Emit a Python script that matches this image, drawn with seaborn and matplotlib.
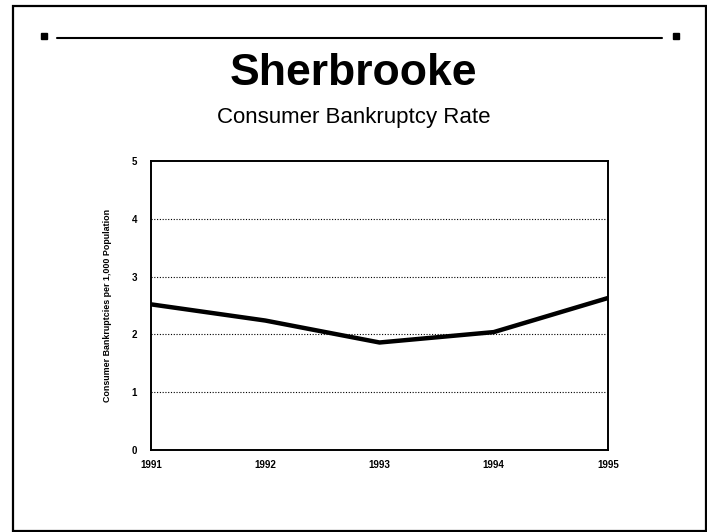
import matplotlib
matplotlib.use("Agg")
import matplotlib.pyplot as plt
from matplotlib.lines import Line2D
from matplotlib.patches import Rectangle
import seaborn as sns
import pandas as pd

# Consumer bankruptcy rate for Sherbrooke
years = [1991, 1992, 1993, 1994, 1995]
rates = [2.52, 2.24, 1.86, 2.04, 2.63]
year_labels = ["1991", "1992", "1993", "1994", "1995"]
y_ticks = [0, 1, 2, 3, 4, 5]

sns.set_style("white")
plt.rcParams["font.family"] = ["Liberation Sans", "DejaVu Sans"]
plt.rcParams["text.color"] = "black"
plt.rcParams["axes.labelcolor"] = "black"
plt.rcParams["xtick.color"] = "black"
plt.rcParams["ytick.color"] = "black"

df = pd.DataFrame({"year": years, "rate": rates})

fig = plt.figure(figsize=(7.07, 5.32), dpi=100)
ax = fig.add_axes([0.2136, 0.1541, 0.6464, 0.5433])

sns.lineplot(data=df, x="year", y="rate", ax=ax, color="black", linewidth=3.2)

ax.set_xlim(years[0], years[-1])
ax.set_ylim(0, 5)
ax.set_xticks(years)
ax.set_xticklabels(year_labels, fontsize=7, fontweight="bold")
ax.set_yticks(y_ticks)
ax.set_yticklabels([str(t) for t in y_ticks], fontsize=7, fontweight="bold")
ax.tick_params(axis="both", length=0)
ax.tick_params(axis="x", pad=7)
ax.tick_params(axis="y", pad=10)
ax.set_xlabel("")
ax.set_ylabel("Consumer Bankruptcies per 1,000 Population",
              fontsize=6.4, fontweight="bold", labelpad=14)

for y in y_ticks[1:-1]:
    ax.axhline(y, color="black", linestyle=(0, (1, 1.5)), linewidth=0.8, zorder=1)

for side in ["left", "right", "top", "bottom"]:
    ax.spines[side].set_visible(True)
    ax.spines[side].set_color("black")
    ax.spines[side].set_linewidth(1.4)

# Titles
fig.text(0.5, 1 - 73 / 532, "Sherbrooke", ha="center", va="center",
         fontsize=32, fontweight="bold", color="black")
fig.text(0.5, 1 - 117 / 532, "Consumer Bankruptcy Rate", ha="center",
         va="center", fontsize=16, color="black")

# Page frame and header rule
W, H = 707, 532
fig.add_artist(Rectangle((13 / W, 1 - 531 / H), (706 - 13) / W, (531 - 6) / H,
                         transform=fig.transFigure, fill=False,
                         edgecolor="black", linewidth=1.6))
fig.add_artist(Line2D([57 / W, 662 / W], [1 - 38 / H, 1 - 38 / H],
                      transform=fig.transFigure, color="black", linewidth=1.5))
fig.add_artist(Line2D([44 / W, 676 / W], [1 - 36 / H, 1 - 36 / H],
                      transform=fig.transFigure, color="black", linestyle="none",
                      marker="s", markersize=4))

fig.savefig("out.png", dpi=100, facecolor="white")
